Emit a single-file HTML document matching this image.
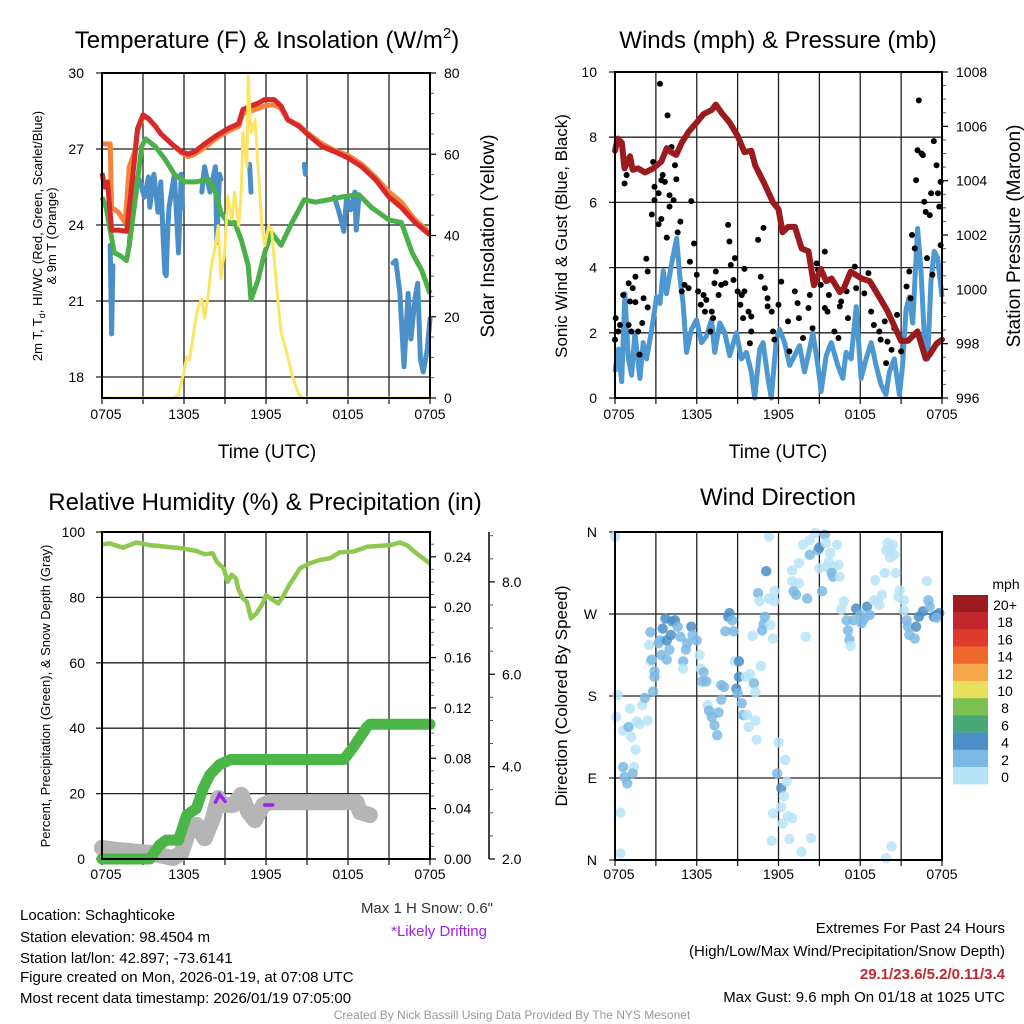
<!DOCTYPE html>
<html><head><meta charset="utf-8"><style>
body{margin:0;background:#fff}
svg{display:block;font-family:"Liberation Sans",Arial,sans-serif}
</style></head><body>
<svg id="chart" width="1024" height="1024" viewBox="0 0 1024 1024" xmlns="http://www.w3.org/2000/svg">
<rect width="1024" height="1024" fill="#fff"/>
<g id="g"></g>
<text x="267" y="48" font-size="24" text-anchor="middle">Temperature (F) &amp; Insolation (W/m<tspan font-size="15" dy="-10">2</tspan><tspan dy="10">)</tspan></text>
<text x="778" y="48" font-size="24" text-anchor="middle">Winds (mph) &amp; Pressure (mb)</text>
<text x="265" y="510" font-size="24" text-anchor="middle">Relative Humidity (%) &amp; Precipitation (in)</text>
<text x="778" y="505" font-size="24" text-anchor="middle">Wind Direction</text>
<text transform="translate(42,236) rotate(-90)" font-size="13" text-anchor="middle">2m T, T<tspan font-size="9" dy="3">d</tspan><tspan dy="-3">, HI/WC (Red, Green, Scarlet/Blue)</tspan></text>
<text transform="translate(56,236) rotate(-90)" font-size="13" text-anchor="middle">&amp; 9m T (Orange)</text>
<text transform="translate(494,236) rotate(-90)" font-size="19" text-anchor="middle">Solar Insolation (Yellow)</text>
<text x="267" y="458" font-size="19" text-anchor="middle">Time (UTC)</text>
<text transform="translate(567,236) rotate(-90)" font-size="17" text-anchor="middle">Sonic Wind &amp; Gust (Blue, Black)</text>
<text transform="translate(1020,236) rotate(-90)" font-size="19" text-anchor="middle">Station Pressure (Maroon)</text>
<text x="778" y="458" font-size="19" text-anchor="middle">Time (UTC)</text>
<text transform="translate(50,696) rotate(-90)" font-size="13" text-anchor="middle">Percent, Precipitation (Green), &amp; Snow Depth (Gray)</text>
<text transform="translate(567,696) rotate(-90)" font-size="17" text-anchor="middle">Direction (Colored By Speed)</text>
<text x="493" y="913" font-size="15" text-anchor="end" fill="#333">Max 1 H Snow: 0.6"</text>
<text x="487" y="936" font-size="15" text-anchor="end" fill="#a020f0">*Likely Drifting</text>
<g font-size="15">
<text x="20" y="920">Location: Schaghticoke</text>
<text x="20" y="942">Station elevation: 98.4504 m</text>
<text x="20" y="963">Station lat/lon: 42.897; -73.6141</text>
<text x="20" y="982">Figure created on Mon, 2026-01-19, at 07:08 UTC</text>
<text x="20" y="1003">Most recent data timestamp: 2026/01/19 07:05:00</text>
</g>
<g font-size="15" text-anchor="end">
<text x="1005" y="933">Extremes For Past 24 Hours</text>
<text x="1005" y="956">(High/Low/Max Wind/Precipitation/Snow Depth)</text>
<text x="1005" y="979" fill="#c1272d" font-weight="bold">29.1/23.6/5.2/0.11/3.4</text>
<text x="1005" y="1002">Max Gust: 9.6 mph On 01/18 at 1025 UTC</text>
</g>
<text x="512" y="1019" font-size="12" fill="#999" text-anchor="middle">Created By Nick Bassill Using Data Provided By The NYS Mesonet</text>
</svg>
<script>
const redH=[0,0.2,0.4,0.7,1.2,1.8,2.0,2.4,2.6,3.0,3.4,3.9,4.3,5.1,5.8,6.3,6.8,7.5,8.3,9.2,10.0,10.3,10.9,11.4,11.9,12.6,13.1,13.6,14.4,15.1,16.1,17.0,18.0,19.0,20.0,21.0,21.9,22.9,24];
const redT=[26.05,25.5,25.7,23.8,23.8,23.75,24.7,26.7,27.8,28.35,28.2,27.9,27.6,27.2,26.9,26.8,26.9,27.2,27.5,27.8,28.0,28.55,28.7,28.8,28.95,28.95,28.7,28.15,27.9,27.55,27.1,26.9,26.65,26.3,25.8,25.1,24.7,24.1,23.6];
const orgH=[0,0.6,0.7,1.2,1.7,2.0,2.4,2.6,3.0,3.4,3.9,4.3,5.1,5.8,6.3,6.8,7.5,8.3,9.2,10.0,10.3,10.9,11.4,11.9,12.6,13.1,13.6,14.4,15.1,16.1,17.0,18.0,19.0,20.0,21.0,21.9,22.9,24];
const orgT=[27.2,27.2,24.7,24.5,24.1,26.3,26.9,27.7,28.3,28.2,27.9,27.6,27.2,26.85,26.7,26.8,27.05,27.4,27.7,27.9,28.4,28.5,28.6,28.7,28.75,28.6,28.15,27.95,27.6,27.2,26.95,26.75,26.4,25.9,25.3,24.9,24.2,23.7];
const grnH=[0,0.3,0.6,0.9,1.3,1.8,2.0,2.5,2.9,3.2,3.9,4.6,5.3,6.1,6.8,7.8,8.3,8.7,9.2,9.7,10.2,10.7,10.9,11.4,11.9,12.4,13.1,13.9,14.8,15.6,16.6,17.5,18.8,19.7,21.0,21.9,22.7,23.4,24];
const grnT=[25.1,24.7,23.8,22.9,22.8,22.6,23.2,25.3,27.1,27.4,27.1,26.6,26.0,25.7,25.7,25.8,25.3,24.5,24.1,24.1,23.4,22.4,21.05,21.8,22.9,23.7,23.2,24.1,25.0,24.9,25.0,25.1,25.2,24.7,24.2,24.1,22.9,22.2,21.3];
const wcH=[0.6,0.7,0.8,null,2.0,2.2,2.6,2.8,3.1,3.4,3.5,3.8,4.1,4.3,4.5,4.6,4.7,4.8,4.9,5.3,5.6,5.8,5.9,null,7.3,7.5,7.9,8.3,8.4,8.6,8.7,null,10.8,10.9,null,14.8,14.9,null,17.0,17.3,17.7,17.9,18.2,18.5,18.6,18.8,null,21.3,21.5,21.8,22.1,22.4,22.6,22.9,23.1,23.3,23.5,23.8,24];
const wcT=[23.2,19.7,22.4,null,23.3,24.4,25.9,25.7,25.1,25.9,24.7,26.0,24.5,25.7,23.2,22.1,22.0,23.7,24.7,26.0,22.9,26.0,24.7,null,25.3,26.3,25.3,26.3,23.3,26.0,25.8,null,26.4,25.3,null,26.4,26.0,null,25.1,24.6,23.75,25.1,24.6,25.3,23.8,25.1,null,22.5,22.6,21.3,18.4,21.3,19.5,21.1,21.7,18.7,18.2,19.1,20.3];
const solH=[0,5.2,5.6,6.0,6.2,6.4,6.8,7.0,7.3,7.5,7.8,8.0,8.3,8.5,8.7,9.0,9.2,9.5,9.7,10.0,10.2,10.3,10.6,10.7,10.9,11.2,11.4,11.7,11.9,12.2,12.4,12.6,12.9,13.1,13.5,13.9,14.4,14.7,24];
const solI=[0,0,0.8,6.5,10.2,9.4,18,22,24.5,19.6,26,32.6,37.5,42.4,29.4,36.7,49.8,44,50.6,42.4,51.4,65.3,57,79.2,65.3,68.6,58,42.4,37.5,42.4,41.6,34.3,22.9,16.3,11.4,5.7,0.8,0,0];
const presH=[0,0.2,0.5,0.7,1.1,1.3,1.7,2.2,2.8,3.4,3.8,4.1,4.5,4.9,5.4,6.0,6.5,7.1,7.4,7.9,8.4,9.0,9.5,10.0,10.3,11.0,11.6,12.0,12.3,12.7,13.2,13.7,14.2,14.6,15.1,15.5,15.9,16.5,16.8,17.3,18.1,18.7,19.3,20.0,21.0,21.5,22.2,22.8,23.1,23.6,24];
const presV=[1005.1,1005.55,1005.4,1004.45,1004.9,1004.4,1004.45,1004.3,1004.45,1004.7,1005.2,1005.05,1004.95,1005.4,1005.8,1006.15,1006.45,1006.6,1006.8,1006.45,1006.15,1005.65,1005.05,1005.1,1004.55,1003.85,1003.2,1002.95,1002.1,1002.3,1002.3,1001.5,1001.4,1000.15,1000.75,1000.3,1000.4,999.9,1000.05,1000.65,1000.4,1000.3,999.8,999.2,998.1,998.1,998.45,997.45,997.6,998.0,998.15];
const sonH=[0,0.24,0.49,0.73,0.98,1.22,1.46,1.83,2.07,2.32,2.69,3.05,3.3,3.54,3.78,4.15,4.52,4.76,5.0,5.25,5.61,5.98,6.35,6.71,7.08,7.32,7.69,8.06,8.42,8.91,9.28,9.64,10.0,10.25,10.62,10.86,11.23,11.47,11.84,12.08,12.45,12.82,13.18,13.55,13.91,14.28,14.52,14.89,15.13,15.5,15.87,16.35,16.72,16.96,17.33,17.7,18.06,18.43,18.8,19.16,19.53,19.89,20.14,20.5,20.87,21.11,21.36,21.6,21.85,22.21,22.46,22.7,22.95,23.19,23.43,23.68,24];
const sonW=[0.8,1.5,0.5,3.2,1.2,0.7,2.0,0.6,1.7,1.2,2.1,3.1,2.9,3.9,3.2,4.1,4.9,3.7,2.9,1.4,2.1,2.4,1.7,1.9,2.4,1.4,2.3,2.0,1.3,2.0,1.2,1.4,0.8,0.0,1.5,1.7,0.6,0,1.8,2.1,1.7,1.0,1.3,1.6,0.8,1.5,2.0,1.0,0.2,1.3,1.7,1.0,0.6,1.4,1.2,2.8,0.6,1.2,1.7,1.0,0.4,0.1,0.8,1.2,0.1,1.0,2.7,3.1,2.3,5.2,3.9,1.9,1.2,3.6,4.5,4.3,3.1];
const gustH=[3.3,3.86,4.15,2.8,3.5,3.66,3.4,4.4,4.5,2.9,3.2,2.9,4.0,4.3,4.0,2.7,3.4,3.2,3.8,4.8,4.6,5.6,5.8,5.5,2.3,2.4,1.5,1.0,0.6,0.7,0.85,0,0.05,0.24,0.37,1.1,1.0,1.2,1.7,2.1,2.0,2.4,1.3,1.5,1.8,5.1,4.9,5.4,6.0,6.1,6.5,6.3,6.7,6.6,7.1,7.2,7.0,7.4,7.3,7.6,7.8,8.1,8.3,8.4,8.5,8.7,8.8,9.0,9.3,9.5,9.5,9.2,9.4,9.8,10.0,10.0,9.9,10.5,10.9,10.7,11.0,11.2,11.2,11.5,11.6,11.7,12.0,12.2,12.7,12.8,13.2,13.4,13.5,13.8,14.2,14.3,14.5,14.8,14.9,15.4,15.1,15.4,15.6,15.7,16.1,16.4,16.5,16.6,17.0,17.1,17.6,17.7,18.3,18.6,18.8,19.0,19.4,19.5,19.8,19.9,20.0,20.3,20.5,20.7,21.0,21.4,21.6,21.7,21.8,22.0,22.1,22.2,22.3,22.5,22.6,22.7,22.8,23.1,23.2,23.3,23.4,23.6,23.7,23.8,23.9,23.9,22.9];
const gustW=[9.64,8.67,7.7,7.24,6.84,6.63,6.68,7.14,6.71,6.48,6.28,6.07,6.22,6.07,5.87,5.63,5.49,5.33,4.92,5.41,5.08,6.04,4.74,4.18,4.27,3.88,3.72,3.52,3.16,6.58,6.84,1.79,2.45,2.04,2.24,2.96,2.24,2.04,2.04,3.06,2.3,2.78,3.37,2.94,1.33,3.47,3.27,3.37,3.78,3.27,3.16,2.86,3.01,2.65,2.65,2.45,2.04,3.88,3.52,3.16,3.47,3.52,5.31,4.8,4.08,3.62,4.29,3.27,3.16,3.96,3.27,2.86,2.45,2.65,2.5,2.04,1.68,4.85,5.22,3.72,3.37,3.06,2.81,2.65,2.04,1.79,2.86,3.57,2.35,1.43,3.27,2.91,2.45,1.84,2.76,3.16,2.14,4.13,3.93,4.49,3.47,2.76,2.65,3.16,2.04,1.84,2.81,2.96,3.27,2.45,4.03,3.37,3.21,3.83,2.65,2.24,2.04,1.79,2.35,1.07,1.73,1.48,2.14,2.55,1.43,3.42,3.88,3.06,5.0,4.59,6.68,7.6,9.13,7.5,7.45,6.02,5.71,5.61,6.28,3.78,7.88,7.14,6.28,5.87,6.63,4.69,4.29];
const rhH=[0,0.56,1.54,2.5,3.5,5.9,6.9,7.5,8.1,8.4,8.9,9.2,9.5,9.8,9.96,10.3,10.6,10.9,11.3,11.7,12.0,12.5,12.9,13.3,13.7,14.5,15.2,15.9,16.7,17.4,18.4,19.4,21.1,21.8,22.3,23.0,24];
const rhV=[96.2,96.5,95.2,96.8,96,95,94.2,93.2,93.5,90.9,88.9,84.8,86.9,85.8,82.8,79.7,78.7,73.6,75.1,77.7,80.7,79.2,78.2,80.7,83.8,88.9,90.4,91.4,92.0,93.8,94.0,95.5,96.0,96.8,96,93.5,90.4];
const prcH=[0,3.5,4.2,4.7,5.6,6.2,6.9,7.4,7.9,8.6,9.4,17.7,18.4,19.4,19.6,24];
const prcV=[0,0,0.011,0.015,0.015,0.035,0.04,0.056,0.067,0.075,0.079,0.079,0.089,0.105,0.107,0.107];
const snoH=[0,1.05,3.49,5.2,5.81,6.42,6.91,7.52,8.13,8.5,8.86,9.6,10.2,10.7,11.18,11.8,12.28,18.63,18.87,19.6];
const snoV=[2.24,2.2,2.13,2.02,2.13,2.67,2.74,2.45,2.89,3.32,3.17,3.17,3.39,3.02,2.84,3.17,3.23,3.23,3.02,2.95];
const drift1H=[8.3,8.6,9.0];
const drift1V=[3.23,3.40,3.25];
const drift2H=[11.9,12.5];
const drift2V=[3.17,3.17];
const dirH=[0.0,0.4,0.4,0.2,0.1,0.6,1.0,1.1,1.2,1.5,1.4,0.6,0.7,0.9,1.3,1.6,1.8,2.0,2.2,2.4,2.8,2.6,2.7,2.9,2.9,2.5,2.6,3.2,3.4,3.3,3.5,3.7,3.8,4.0,3.8,4.1,4.2,4.4,4.6,4.8,5.0,5.0,5.2,5.3,5.6,5.7,6.0,6.2,6.3,6.5,6.4,6.7,6.8,6.9,7.1,7.3,7.5,7.6,7.8,7.8,8.0,8.1,8.3,8.4,8.6,8.7,8.8,9.1,9.1,8.9,9.0,9.3,9.4,9.7,9.8,9.6,9.9,10.2,10.3,10.3,10.4,10.7,10.1,10.8,10.9,11.0,11.4,11.6,10.5,10.6,11.3,11.7,11.7,11.1,11.3,12.0,12.5,11.9,12.2,12.6,12.4,12.2,11.6,12.3,12.7,13.0,11.5,12.8,13.7,14.4,14.0,13.0,13.0,13.5,13.1,13.3,14.1,13.5,13.8,14.3,14.7,14.3,14.9,15.0,15.4,15.5,15.8,15.7,15.5,16.3,16.1,16.4,15.9,16.0,16.5,15.2,15.0,16.8,16.6,17.0,17.1,17.2,17.3,17.5,17.7,18.0,18.3,18.5,18.7,18.1,19.0,19.1,19.3,19.4,19.6,19.9,20.0,20.2,20.4,20.5,20.6,20.8,20.9,21.2,21.2,21.4,21.5,21.6,22.0,22.1,22.3,22.6,22.9,23.0,23.1,23.4,23.6,23.8,23.6,19.9,20.3,19.8,20.2];
const dirD=[355,7,52,181,157,142,146,166,135,121,102,102,91,84,95,152,149,170,178,153,185,218,220,207,201,236,250,238,225,241,254,265,241,231,220,247,262,263,256,245,218,210,231,238,256,247,241,225,210,206,196,196,170,164,157,148,137,162,176,192,190,251,267,271,263,251,218,218,201,188,183,172,159,159,146,201,204,194,184,153,132,213,246,252,259,267,258,243,293,284,287,284,295,317,355,129,110,95,79,86,70,58,51,40,48,46,21,23,9,24,245,318,306,304,295,291,287,326,346,351,359,335,340,343,357,348,337,327,322,346,322,324,315,311,311,295,320,284,275,263,252,242,235,263,276,269,265,278,269,260,285,307,285,280,291,340,348,332,346,335,315,289,296,285,274,263,256,247,243,256,267,273,306,285,278,267,269,271,266,2,15,315,342];
const dirS=[1,1,1,1,1,1,3,1,1,1,1,3,3,3,3,1,1,1,3,1,3,1,3,3,3,1,3,3,3,3,5,5,5,3,3,5,5,5,3,3,3,1,3,3,5,3,3,1,1,3,3,3,1,3,3,3,3,3,3,3,3,3,5,5,3,3,1,5,5,5,3,3,3,1,1,1,1,3,1,1,1,1,1,3,3,3,1,1,3,1,1,1,1,5,1,1,1,3,5,1,1,1,1,1,1,1,1,1,1,1,1,1,1,1,3,3,3,1,1,1,1,3,3,5,3,1,1,1,1,1,1,1,3,3,1,3,1,1,1,3,3,3,1,3,5,3,3,5,3,3,1,1,1,1,1,1,1,1,1,1,1,1,1,1,1,3,3,3,3,5,5,5,1,3,3,5,5,5,3,1,1,1,1];
const cbLabels=["20+","18","16","14","12","10","8","6","4","2","0"];
const cbColors=["#9b1b1e","#c1272d","#e03a2f","#f0672b","#f7a748","#e7e05a","#7cc04f","#49a877","#4a8fc8","#7bb8e4","#b7e3f7"];
const timeLabels=["0705","1305","1905","0105","0705"];

const NS="http://www.w3.org/2000/svg";
const G=document.getElementById('g');
function mk(tag,attrs,parent){const e=document.createElementNS(NS,tag);for(const k in attrs)e.setAttribute(k,attrs[k]);(parent||G).appendChild(e);return e;}
const P1={x0:102,x1:430,y0:73,y1:398};
const P2={x0:615,x1:942,y0:72,y1:398};
const P3={x0:102,x1:430,y0:532,y1:859};
const P4={x0:615,x1:942,y0:532,y1:860};
function xs(p,h){return p.x0+(p.x1-p.x0)*h/24;}
function ys(p,v,lo,hi){return p.y1-(p.y1-p.y0)*(v-lo)/(hi-lo);}
function pathD(p,H,V,lo,hi){let d='',pen=false;for(let i=0;i<H.length;i++){if(H[i]===null||V[i]===null){pen=false;continue;}d+=(pen?'L':'M')+xs(p,H[i]).toFixed(1)+','+ys(p,V[i],lo,hi).toFixed(1);pen=true;}return d;}

function grid(p,hy,name){
  const g=mk('g',{stroke:'#222','stroke-width':1.3,fill:'none'});
  
  
  for(let h=3;h<24;h+=3){const x=xs(p,h);mk('line',{x1:x,x2:x,y1:p.y0,y2:p.y1+6},g);}
  mk('line',{x1:p.x0,x2:p.x0,y1:p.y1,y2:p.y1+6},g);mk('line',{x1:p.x1,x2:p.x1,y1:p.y1,y2:p.y1+6},g);
  hy.forEach(y=>mk('line',{x1:p.x0-6,x2:p.x1,y1:y,y2:y},g));
}
function frame(p,name){
  const r=mk('rect',{x:p.x0,y:p.y0,width:p.x1-p.x0,height:p.y1-p.y0,fill:'none',stroke:'#000','stroke-width':2});
  
  
}
function label(x,y,t,anchor,size,name){
  const e=mk('text',{x:x,y:y,'font-size':size||14,'text-anchor':anchor||'middle'});e.textContent=t;
  
  
  return e;
}
function xlabels(p,y,name){timeLabels.forEach((t,i)=>{label(xs(p,i*6)+(i==0?4:0),y,t,'middle',14,name+'-x-tick-'+i);});}
function rightTicks(p,x,vals,lo,hi,fmt,name,minor){
  vals.forEach(v=>{const y=ys(p,v,lo,hi);mk('line',{x1:x,x2:x+6,y1:y,y2:y,stroke:'#000','stroke-width':1.2});label(x+14,y+5,fmt(v),'start',14,name+'-tick');});
  if(minor)minor.forEach(v=>{const y=ys(p,v,lo,hi);mk('line',{x1:x,x2:x+4,y1:y,y2:y,stroke:'#555','stroke-width':1});});
}

const tVals=[18,21,24,27,30];
grid(P1,tVals.map(v=>ys(P1,v,17.17,30)),'temp');
tVals.forEach(v=>label(P1.x0-18,ys(P1,v,17.17,30)+5,String(v),'end',14,'temp-y-tick'));
const m1=[];for(let v=5;v<80;v+=5)if(v%20)m1.push(v);
rightTicks(P1,P1.x1,[0,20,40,60,80],0,80,v=>String(v),'insolation',m1);
xlabels(P1,419,'temp');
let e;
e=mk('path',{d:pathD(P1,wcH,wcT,17.17,30),fill:'none',stroke:'#4a8fc8','stroke-width':5,'stroke-linejoin':'round','stroke-linecap':'round'});


e=mk('path',{d:pathD(P1,grnH,grnT,17.17,30),fill:'none',stroke:'#4bb04a','stroke-width':5,'stroke-linejoin':'round'});


e=mk('path',{d:pathD(P1,orgH,orgT,17.17,30),fill:'none',stroke:'#f5843a','stroke-width':5,'stroke-linejoin':'round'});


e=mk('path',{d:pathD(P1,redH,redT,17.17,30),fill:'none',stroke:'#d7282a','stroke-width':5,'stroke-linejoin':'round'});


e=mk('path',{d:pathD(P1,solH,solI,0,80),fill:'none',stroke:'#fde462','stroke-width':3,'stroke-linejoin':'round'});


frame(P1,'temp');

const wVals=[0,2,4,6,8,10];
grid(P2,wVals.map(v=>ys(P2,v,0,10)),'wind');
wVals.forEach(v=>label(P2.x0-18,ys(P2,v,0,10)+5,String(v),'end',14,'wind-y-tick'));
const m2=[];for(let v=996.5;v<1008;v+=0.5)if(v%2)m2.push(v);
rightTicks(P2,P2.x1,[996,998,1000,1002,1004,1006,1008],996,1008,v=>String(v),'pressure',m2);
xlabels(P2,419,'wind');
e=mk('path',{d:pathD(P2,sonH,sonW,0,10),fill:'none',stroke:'#4e98d2','stroke-width':5,'stroke-linejoin':'round'});


for(let i=0;i<gustH.length;i++){
  const c=mk('circle',{cx:xs(P2,gustH[i]),cy:ys(P2,gustW[i],0,10),r:3,fill:'#000'});
  
  
}
e=mk('path',{d:pathD(P2,presH,presV,996,1008),fill:'none',stroke:'#9a1a1e','stroke-width':6,'stroke-linejoin':'round','stroke-linecap':'round'});


frame(P2,'wind');

const rVals=[0,20,40,60,80,100];
grid(P3,rVals.map(v=>ys(P3,v,0,100)),'rh');
rVals.forEach(v=>label(P3.x0-17,ys(P3,v,0,100)+5,String(v),'end',14,'rh-y-tick'));
const m3=[];for(let v=0.01;v<0.255;v+=0.01)if(Math.round(v*100)%4)m3.push(v);
rightTicks(P3,P3.x1,[0,0.04,0.08,0.12,0.16,0.20,0.24],0,0.2597,v=>v.toFixed(2),'precip',m3);
e=mk('line',{x1:489,x2:489,y1:532,y2:859,stroke:'#000','stroke-width':1.5});


[2,4,6,8].forEach(v=>{const y=ys(P3,v,2,9.08);mk('line',{x1:489,x2:495,y1:y,y2:y,stroke:'#000','stroke-width':1.2});label(502,y+5,v.toFixed(1),'start',14,'snow-tick');});
[2.5,3,3.5,4.5,5,5.5,6.5,7,7.5,8.5,9].forEach(v=>{const y=ys(P3,v,2,9.08);mk('line',{x1:489,x2:493,y1:y,y2:y,stroke:'#555','stroke-width':1});});
xlabels(P3,879,'rh');
e=mk('path',{d:pathD(P3,snoH,snoV,2,9.08),fill:'none',stroke:'#b5b5b5','stroke-width':16,'stroke-linejoin':'round','stroke-linecap':'round'});


e=mk('path',{d:pathD(P3,prcH,prcV,0,0.2597),fill:'none',stroke:'#4bb548','stroke-width':11,'stroke-linejoin':'round','stroke-linecap':'round'});


e=mk('path',{d:pathD(P3,drift1H,drift1V,2,9.08),fill:'none',stroke:'#a020f0','stroke-width':3.5,'stroke-linecap':'round'});


e=mk('path',{d:pathD(P3,drift2H,drift2V,2,9.08),fill:'none',stroke:'#a020f0','stroke-width':3.5,'stroke-linecap':'round'});


e=mk('path',{d:pathD(P3,rhH,rhV,0,100),fill:'none',stroke:'#8dc94e','stroke-width':4.5,'stroke-linejoin':'round'});


frame(P3,'rh');

const dVals=[0,90,180,270,360];const dNames=["N","E","S","W","N"];
grid(P4,dVals.map(v=>ys(P4,v,0,360)),'dir');
dVals.forEach((v,i)=>label(P4.x0-18,ys(P4,v,0,360)+5,dNames[i],'end',14,'dir-y-tick'));
xlabels(P4,879,'dir');
function spdColor(s){const idx=10-Math.min(10,Math.floor(s/2));return cbColors[idx];}
for(let i=0;i<dirH.length;i++){
  const c=mk('circle',{cx:xs(P4,dirH[i]),cy:ys(P4,dirD[i],0,360),r:5.2,fill:spdColor(dirS[i]),'fill-opacity':0.85});
  
  
}
frame(P4,'dir');
label(1006,589,'mph','middle',14,'colorbar-unit');
cbLabels.forEach((t,i)=>{
  const y=595+i*17.2;
  const r=mk('rect',{x:953,y:y,width:35,height:17.4,fill:cbColors[i]});
  
  
  label(1005,y+15,t,'middle',14,'colorbar-label');
});
</script>
</body></html>
